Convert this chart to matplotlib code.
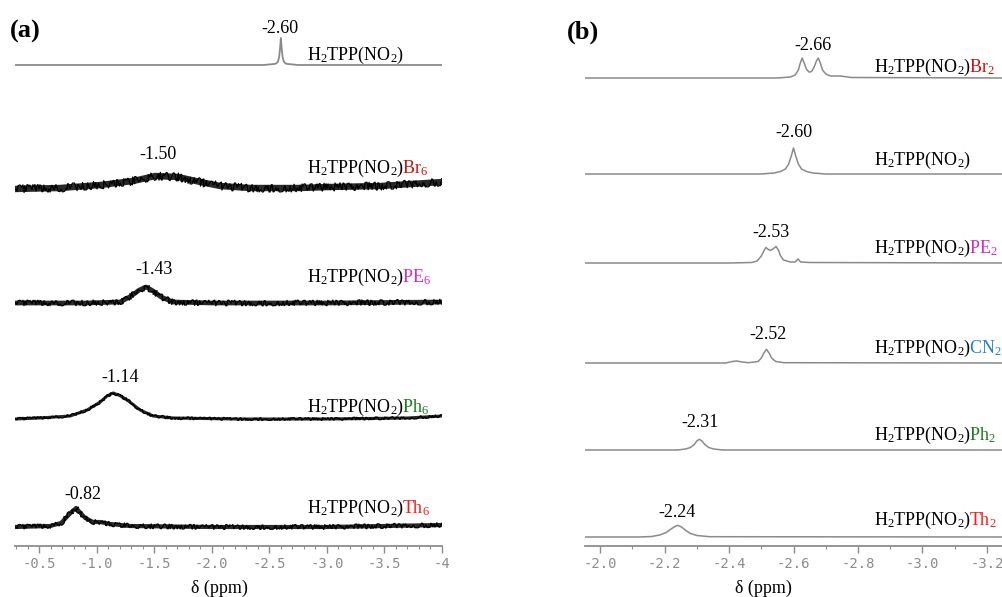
import matplotlib
matplotlib.use("Agg")
import matplotlib.pyplot as plt
from matplotlib.ticker import MultipleLocator
from matplotlib import transforms

plt.rcParams['font.family'] = ['Liberation Serif', 'DejaVu Serif']
plt.rcParams['mathtext.fontset'] = 'custom'
plt.rcParams['mathtext.rm'] = 'Liberation Serif'
plt.rcParams['mathtext.it'] = 'Liberation Serif:italic'
plt.rcParams['mathtext.bf'] = 'Liberation Serif:bold'
plt.rcParams['axes.unicode_minus'] = False

# ---------------- panel (a): 1H NMR, NH region (ppm, intensity above baseline)
a_no2_ppm = [-0.29, -2.45, -2.54, -2.56, -2.575, -2.585, -2.5925, -2.60, -2.6075, -2.615, -2.625, -2.64, -2.66, -2.75, -4.0]
a_no2_int = [0, 0, 1, 1.5, 3.5, 8, 16, 27, 16, 8, 3.5, 1.5, 1, 0, 0]

a_br6_ppm = [-0.29, -0.68, -1.03, -1.317, -1.508, -1.708, -1.899, -2.073, -2.333, -2.768, -3.028, -3.463, -4.0]
a_br6_int = [0, 1, 4, 8, 13, 12, 7, 3, 1, 1, 2, 3, 7]

a_pe6_ppm = [-0.29, -0.9, -1.204, -1.30, -1.37, -1.43, -1.49, -1.56, -1.66, -2.0, -2.333, -3.0, -4.0]
a_pe6_int = [1, 1, 2, 8, 14, 17, 13, 7, 2, 1, 1, 1, 2]

a_ph6_ppm = [-0.29, -0.50, -0.769, -0.917, -1.03, -1.09, -1.143, -1.20, -1.265, -1.377, -1.49, -1.664, -2.2, -3.0, -3.7, -4.0]
a_ph6_int = [0, 1, 3, 9, 17, 23, 26, 23.5, 19, 9, 3, 1, 0, 0, 1, 3]

a_th6_ppm = [-0.29, -0.596, -0.69, -0.74, -0.79, -0.821, -0.86, -0.90, -0.969, -1.03, -1.117, -1.291, -2.0, -3.0, -4.0]
a_th6_int = [0, 1, 4, 10, 16, 19, 14, 9, 5, 5, 3, 1, 0, 0, 2]

a_peaks = ['-2.60', '-1.50', '-1.43', '-1.14', '-0.82']
a_suffix = ['', 'Br$_6$', 'PE$_6$', 'Ph$_6$', 'Th$_6$']

# ---------------- panel (b)
b_br2_ppm = [-1.953, -2.55, -2.59, -2.605, -2.615, -2.621, -2.627, -2.633, -2.64, -2.648, -2.652, -2.657, -2.664, -2.671, -2.677, -2.683, -2.69, -2.70, -2.715, -2.745, -2.78, -3.25]
b_br2_int = [0, 0, 1, 3, 8, 15, 20, 15, 9, 6, 6, 7, 11, 17, 20, 15, 8, 4, 2, 2, 0.5, 0]

b_no2_ppm = [-1.953, -2.50, -2.54, -2.56, -2.575, -2.585, -2.593, -2.60, -2.607, -2.615, -2.625, -2.64, -2.66, -2.70, -3.25]
b_no2_int = [0, 0, 1, 2.5, 5, 10, 18, 26, 18, 10, 5, 2.5, 1, 0, 0]

b_pe2_ppm = [-1.953, -2.40, -2.47, -2.487, -2.50, -2.508, -2.514, -2.52, -2.528, -2.536, -2.546, -2.553, -2.56, -2.569, -2.59, -2.605, -2.614, -2.622, -2.65, -3.25]
b_pe2_int = [0, 0, 0.5, 2, 7, 12, 15.5, 14, 12.5, 14, 16.5, 13, 7, 3, 1, 1, 4, 1, 0.5, 0]

b_cn2_ppm = [-1.953, -2.39, -2.41, -2.424, -2.44, -2.46, -2.49, -2.50, -2.508, -2.516, -2.524, -2.532, -2.545, -2.57, -3.25]
b_cn2_int = [0, 0, 1.5, 2, 1, 0.3, 1.5, 5, 10, 13.7, 10, 5, 1.5, 0.3, 0]

b_ph2_ppm = [-1.953, -2.24, -2.265, -2.28, -2.292, -2.30, -2.308, -2.316, -2.325, -2.337, -2.352, -2.38, -3.25]
b_ph2_int = [0, 0, 1, 2.5, 5.5, 9, 10.7, 9, 5.5, 2.5, 1, 0, 0]

b_th2_ppm = [-1.953, -2.12, -2.16, -2.185, -2.205, -2.22, -2.232, -2.24, -2.25, -2.262, -2.28, -2.30, -2.34, -3.25]
b_th2_int = [0, 0, 0.5, 2, 4.5, 8, 10.5, 11.6, 10.5, 7.5, 3.5, 1.5, 0.3, 0]

b_peaks = ['-2.66', '-2.60', '-2.53', '-2.52', '-2.31', '-2.24']
b_suffix = ['Br$_2$', '', 'PE$_2$', 'CN$_2$', 'Ph$_2$', 'Th$_2$']

a_ticks = [-0.5, -1.0, -1.5, -2.0, -2.5, -3.0, -3.5, -4.0]
a_ticklabels = ['-0.5', '-1.0', '-1.5', '-2.0', '-2.5', '-3.0', '-3.5', '-4']
b_ticks = [-2.0, -2.2, -2.4, -2.6, -2.8, -3.0, -3.2]
b_ticklabels = ['-2.0', '-2.2', '-2.4', '-2.6', '-2.8', '-3.0', '-3.2']

# layout (vertical positions in pixels from top of figure)
a_base = [65, 189, 304, 419, 527]
a_num_y = [33, 159, 274, 382, 499]
a_num_x = [-2.594, -1.534, -1.499, -1.204, -0.882]
a_lab_y = [60, 173, 282, 412, 513]
a_band = [None, 4.6, 3.4, 2.2, 3.0]     # noise band thickness (pt)
a_spike = [None, 4.0, 2.8, 1.4, 2.4]    # noise spike amplitude (px)
b_base = [78, 174, 263, 363, 450, 537]
b_num_y = [50, 137, 237, 339, 427, 517]
b_lab_y = [72, 165, 253, 353, 440, 525]

suffix_col = {'Br': '#cc1111', 'PE': '#d42bc4', 'CN': '#1f80d0', 'Ph': '#1c7c1c', 'Th': '#ff1a1a'}
trace_gray = '#8a8a8a'
axis_gray = '#8c8c8c'

W, H = 1003, 597
fig = plt.figure(figsize=(W / 100, H / 100), dpi=100)
axis_y = 545.7
ax_a = fig.add_axes([15 / W, (H - axis_y) / H, 427 / W, axis_y / H])
ax_b = fig.add_axes([585 / W, (H - axis_y) / H, 418 / W, axis_y / H])


def style_axis(ax, xlim, ticks, labels, lab_x):
    ax.set_xlim(*xlim)
    ax.set_ylim(axis_y, 0)
    ax.patch.set_alpha(0)
    for s in ['top', 'left', 'right']:
        ax.spines[s].set_visible(False)
    ax.spines['bottom'].set_color(axis_gray)
    ax.spines['bottom'].set_linewidth(1.3)
    ax.set_yticks([])
    ax.set_xticks(ticks, labels=labels, fontfamily='DejaVu Sans Mono')
    ax.xaxis.set_minor_locator(MultipleLocator(0.1))
    ax.tick_params(axis='x', which='major', direction='out', length=5, width=1,
                   color=axis_gray, labelcolor='#8c8c8c', labelsize=10, pad=3)
    ax.tick_params(axis='x', which='minor', direction='out', length=2, width=0.8, color=axis_gray)
    ax.text(lab_x, -0.086, 'δ (ppm)', transform=ax.transAxes, ha='center', va='baseline', fontsize=13)


style_axis(ax_a, (-0.29, -4.0), a_ticks, a_ticklabels, 0.478)
style_axis(ax_b, (-1.953, -3.25), b_ticks, b_ticklabels, 0.426)


def compound_label(ax, x, y, suffix):
    t = ax.text(x, y, 'H$_2$TPP(NO$_2$)', fontsize=13, va='baseline', ha='left')
    if suffix:
        fig.canvas.draw()
        w = t.get_window_extent().width - 2
        tr = transforms.offset_copy(ax.transData, fig=fig, x=w, y=0, units='dots')
        ax.text(x, y, suffix, fontsize=13, va='baseline', ha='left',
                color=suffix_col[suffix[:2]], transform=tr)


a_series = [(a_no2_ppm, a_no2_int), (a_br6_ppm, a_br6_int), (a_pe6_ppm, a_pe6_int),
            (a_ph6_ppm, a_ph6_int), (a_th6_ppm, a_th6_int)]
for i, (x, y) in enumerate(a_series):
    yy = [a_base[i] - v for v in y]
    if a_band[i] is None:
        ax_a.plot(x, yy, color=trace_gray, lw=1.3)
    else:
        ax_a.plot(x, yy, color='#111111', lw=a_band[i], alpha=0.9)
        ln, = ax_a.plot(x, yy, color='black', lw=0.9)
        ln.set_sketch_params(scale=a_spike[i], length=1.2, randomness=30)
    ax_a.text(a_num_x[i], a_num_y[i], a_peaks[i], ha='center', va='baseline', fontsize=13)
    compound_label(ax_a, -2.828, a_lab_y[i], a_suffix[i])

b_series = [(b_br2_ppm, b_br2_int), (b_no2_ppm, b_no2_int), (b_pe2_ppm, b_pe2_int),
            (b_cn2_ppm, b_cn2_int), (b_ph2_ppm, b_ph2_int), (b_th2_ppm, b_th2_int)]
for i, (x, y) in enumerate(b_series):
    yy = [b_base[i] - v for v in y]
    ax_b.plot(x, yy, color=trace_gray, lw=1.1)
    ax_b.text(float(b_peaks[i]), b_num_y[i], b_peaks[i], ha='center', va='baseline', fontsize=13)
    compound_label(ax_b, -2.851, b_lab_y[i], b_suffix[i])

fig.text(10 / W, (H - 38) / H, '(a)', fontsize=19, fontweight='bold', va='baseline')
fig.text(567 / W, (H - 39) / H, '(b)', fontsize=19, fontweight='bold', va='baseline')

fig.savefig('out.png', dpi=100)
